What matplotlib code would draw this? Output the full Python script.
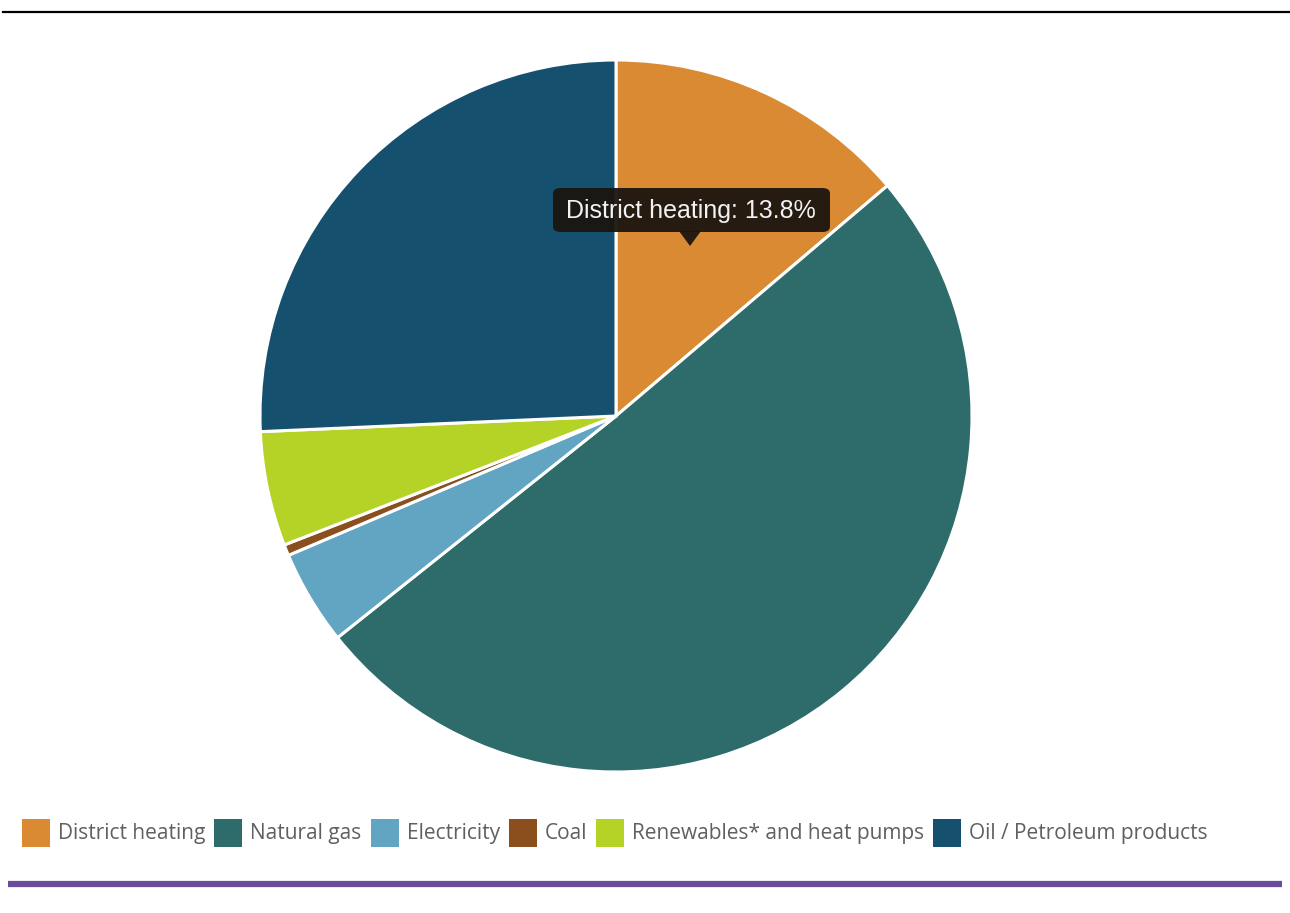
import matplotlib
matplotlib.use("Agg")
import matplotlib.pyplot as plt
from matplotlib.patches import Rectangle, FancyBboxPatch, Polygon
from matplotlib.lines import Line2D

# data (percent shares)
labels = ["District heating", "Natural gas", "Electricity", "Coal",
          "Renewables* and heat pumps", "Oil / Petroleum products"]
shares = [13.8, 50.5, 4.3, 0.5, 5.2, 25.7]
colors = ["#D98A32", "#2E6B6B", "#62A5C2", "#8B4F1E", "#B5D327", "#15506F"]
tooltip_idx = 0

W, H = 1290, 913
fig = plt.figure(figsize=(W / 100, H / 100), dpi=100)
fig.patch.set_facecolor("white")

# pie axes, placed in pixels
ax = fig.add_axes([260 / W, 141 / H, 712 / W, 712 / H])
ax.pie(shares, colors=colors, startangle=90, counterclock=False, radius=1,
       wedgeprops=dict(edgecolor="white", linewidth=2.2))
ax.set_xlim(-1.0, 1.0)
ax.set_ylim(-1.0, 1.0)
ax.set_aspect("equal")
ax.axis("off")

def px(x, y):
    # figure pixel coords (top-left origin) -> figure fraction
    return x / W, (H - y) / H

# rules at top and bottom
fig.add_artist(Line2D([3 / W, 1.0], [1 - 12 / H, 1 - 12 / H], color="black", lw=1.6))
fig.add_artist(Line2D([8 / W, 1282 / W], [1 - 884 / H, 1 - 884 / H],
                      color="#6A4C9C", lw=4.5, solid_capstyle="butt"))

# tooltip box
x0, y0 = px(553, 232)
bw, bh = 277 / W, 44 / H
fig.add_artist(FancyBboxPatch((x0, y0), bw, bh, boxstyle="round,pad=0,rounding_size=0.006",
                              transform=fig.transFigure, facecolor="#1b1510",
                              edgecolor="none", alpha=0.95))
fig.add_artist(Polygon([px(679, 231), px(701, 231), px(690, 246)], closed=True,
                       transform=fig.transFigure, facecolor="#1b1510",
                       edgecolor="none", alpha=0.95))
tx, ty = px(691, 211)
fig.text(tx, ty, f"{labels[tooltip_idx]}: {shares[tooltip_idx]}%", color="#f2f2f2",
         fontsize=18, family="Liberation Sans", ha="center", va="center")

# legend drawn manually in one row
fig.canvas.draw()
renderer = fig.canvas.get_renderer()
x = 22
yc = 833
sq = 28
for lab, col in zip(labels, colors):
    fx, fy = px(x, yc + sq / 2)
    fig.add_artist(Rectangle((fx, fy), sq / W, sq / H, transform=fig.transFigure,
                             facecolor=col, edgecolor="none"))
    tx, ty = px(x + sq + 8, yc)
    t = fig.text(tx, ty, lab, color="#606060", fontsize=15, family="Open Sans",
                 ha="left", va="center")
    wpx = t.get_window_extent(renderer).width
    x = x + sq + 8 + wpx + 9

fig.savefig("out.png", dpi=100, facecolor="white")
